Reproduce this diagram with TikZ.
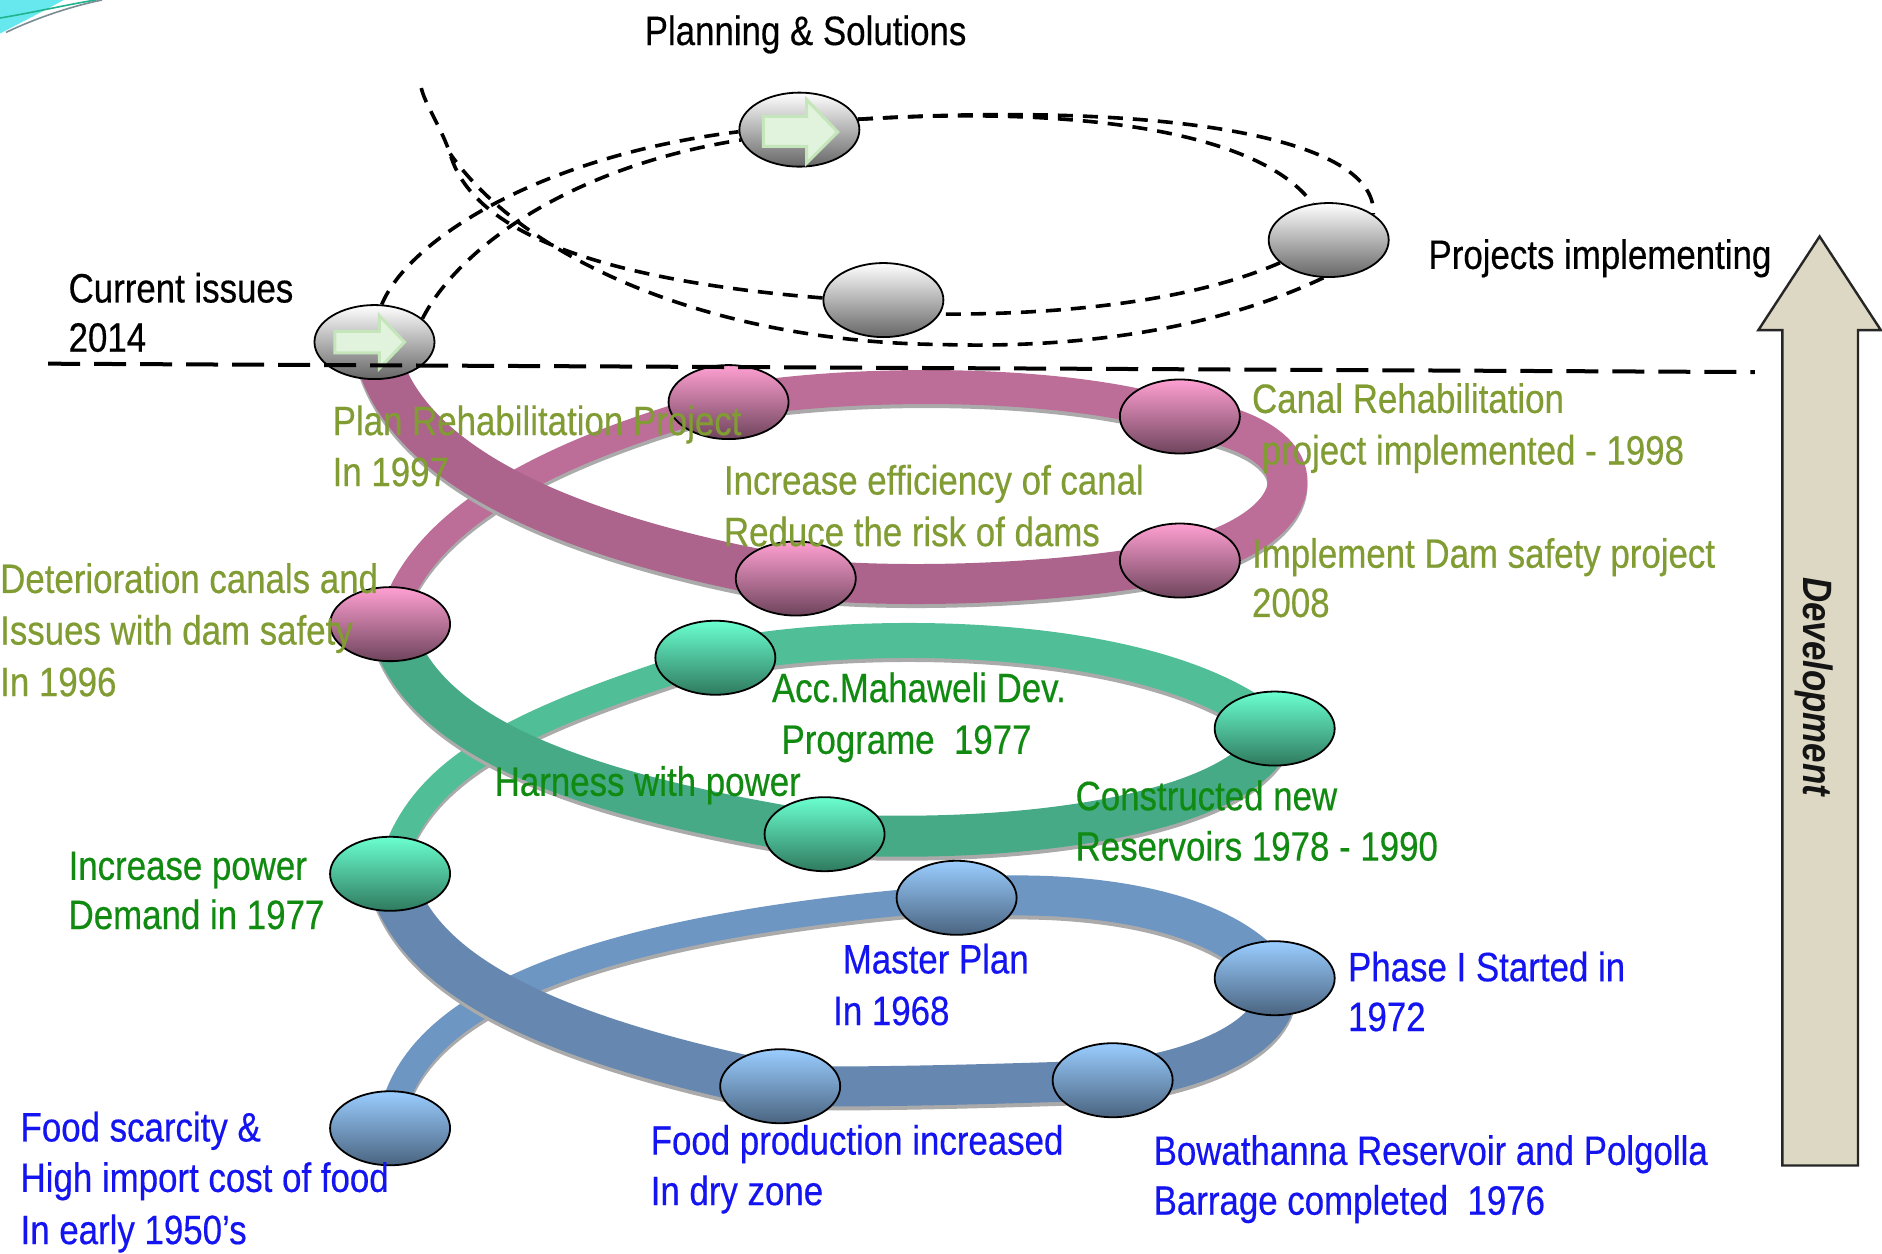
\documentclass[tikz,border=0pt]{standalone}
\usepackage{fontspec}
\setmainfont[FakeStretch=0.85, UprightFeatures={FakeBold=0.4}]{Liberation Sans}
\usetikzlibrary{shapes.geometric}
\pgfdeclarelayer{bg}
\pgfsetlayers{bg,main}
\definecolor{olivetxt}{HTML}{809C33}
\definecolor{greentxt}{HTML}{108A10}
\definecolor{bluetxt}{HTML}{1414F0}
\definecolor{pinkBack}{HTML}{BC6E98}
\definecolor{pinkFront}{HTML}{AC648C}
\definecolor{greenBack}{HTML}{50BE96}
\definecolor{greenFront}{HTML}{46AA86}
\definecolor{blueBack}{HTML}{6E96C3}
\definecolor{blueFront}{HTML}{6587B0}
\definecolor{pinkTop}{HTML}{FFA0D2}
\definecolor{pinkBot}{HTML}{6E445C}
\definecolor{greenTop}{HTML}{6AFFCF}
\definecolor{greenBot}{HTML}{2F7A5F}
\definecolor{blueTop}{HTML}{9ACDFF}
\definecolor{blueBot}{HTML}{4A6480}
\definecolor{shadowgray}{HTML}{AAAAAA}
\definecolor{arrowFill}{HTML}{E2F3DD}
\definecolor{arrowLine}{HTML}{C4E6BA}
\definecolor{devFill}{HTML}{DDD8C3}
\definecolor{swooshCyan}{HTML}{66E8EE}
\definecolor{swooshGreen}{HTML}{1FB38E}
\definecolor{swooshGray}{HTML}{7A8C94}
\newcommand{\ribbonseg}[3]{%
  \draw[draw=shadowgray, line width=#2, transform canvas={yshift=-4pt}] #3;%
  \draw[draw=#1, line width=#2] #3;}
\tikzset{
  ball/.style={ellipse, draw=black, line width=1.8pt, minimum width=120pt, minimum height=74pt, inner sep=0pt},
  grayball/.style={ball, top color=white, bottom color=black!60},
  pinkball/.style={ball, top color=pinkTop, bottom color=pinkBot},
  greenball/.style={ball, top color=greenTop, bottom color=greenBot},
  blueball/.style={ball, top color=blueTop, bottom color=blueBot},
  lbl/.style={anchor=base west, inner sep=0pt, font=\fontsize{41}{50}\selectfont},
  olivelbl/.style={lbl, text=olivetxt},
  greenlbl/.style={lbl, text=greentxt},
  bluelbl/.style={lbl, text=bluetxt},
  dashcurve/.style={draw=black, line width=3.6pt, dash pattern=on 15pt off 10pt},
  horizon/.style={draw=black, line width=4pt, dash pattern=on 32pt off 14pt},
  greenarrow/.style={fill=arrowFill, draw=arrowLine, line width=3pt, line join=miter},
  devarrow/.style={fill=devFill, draw=black!85, line width=2.4pt, line join=miter},
}
\begin{document}
\begin{tikzpicture}[x=1.2pt, y=-1.2pt]
\useasboundingbox (0,0) rectangle (1568,1044);

% balls
\node[grayball] (cur) at (312,285) {};
\node[grayball] (plan) at (666,108) {};
\node[grayball] (front) at (736,250) {};
\node[grayball] (proj) at (1107,200) {};
\node[pinkball] (p1) at (325,520) {};
\node[pinkball] (p2) at (607,335) {};
\node[pinkball] (p3) at (983,347) {};
\node[pinkball] (p4) at (983,467) {};
\node[pinkball] (p5) at (663,482) {};
\node[greenball] (g1) at (325,728) {};
\node[greenball] (g2) at (596,548) {};
\node[greenball] (g3) at (1062,607) {};
\node[greenball] (g4) at (687,695) {};
\node[blueball] (b1) at (325,940) {};
\node[blueball] (b2) at (797,748) {};
\node[blueball] (b3) at (1062,815) {};
\node[blueball] (b4) at (927,900) {};
\node[blueball] (b5) at (650,905) {};

\begin{pgfonlayer}{bg}
\fill[white] (0,0) rectangle (1568,1044);
% top-left swoosh
\fill[swooshCyan] (0,0) -- (53,0) .. controls (35,10) and (15,20) .. (0,28) -- cycle;
\draw[swooshGreen, line width=1.6pt] (0,15) .. controls (30,10) and (60,3) .. (80,0);
\draw[swooshGray, line width=1.6pt] (5,27) .. controls (30,15) and (60,5) .. (85,0);

% blue loop
\ribbonseg{blueBack}{26pt}{(b1.center) .. controls (335,850) and (450,775) .. (b2.center)}
\ribbonseg{blueBack}{40pt}{(b2.center) .. controls (900,740) and (1020,755) .. (b3.center)}
\ribbonseg{blueFront}{40pt}{(b3.center) .. controls (1075,860) and (1000,893) .. (b4.center)}
\ribbonseg{blueFront}{40pt}{(b4.center) .. controls (830,903) and (740,906) .. (b5.center)}
\ribbonseg{blueFront}{47pt}{(b5.center) .. controls (480,870) and (345,820) .. (g1.center)}
% green loop
\ribbonseg{greenBack}{26pt}{(g1.center) .. controls (345,640) and (430,600) .. (g2.center)}
\ribbonseg{greenBack}{35pt}{(g2.center) .. controls (700,525) and (960,520) .. (g3.center)}
\ribbonseg{greenFront}{41pt}{(g3.center) .. controls (1050,670) and (880,705) .. (g4.center)}
\ribbonseg{greenFront}{44pt}{(g4.center) .. controls (500,665) and (350,620) .. (p1.center)}
% pink loop
\ribbonseg{pinkBack}{26pt}{(p1.center) .. controls (345,440) and (440,380) .. (p2.center)}
\ribbonseg{pinkBack}{34pt}{(p2.center) .. controls (700,318) and (880,315) .. (p3.center)}
\ribbonseg{pinkBack}{40pt}{(p3.center) .. controls (1110,365) and (1095,440) .. (p4.center)}
\ribbonseg{pinkFront}{40pt}{(p4.center) .. controls (900,485) and (760,492) .. (p5.center)}
\ribbonseg{pinkFront}{45pt}{(p5.center) .. controls (480,450) and (330,390) .. (cur.center)}

% dashed orbit
\coordinate (tail) at (350,68);
\coordinate (merge) at (375,128);
\draw[dashcurve] (cur.79) .. controls (340,200) and (450,130) .. (plan.182);
\draw[dashcurve] (cur.26) .. controls (380,210) and (470,140) .. (plan.190);
\draw[dashcurve] (plan.10) .. controls (900,88) and (1050,110) .. (proj.114);
\draw[dashcurve] (plan.10) .. controls (950,85) and (1148,110) .. (proj.30);
\draw[dashcurve] (proj.205) .. controls (1000,248) and (900,262) .. (front.346);
\draw[dashcurve] (proj.262) .. controls (1000,280) and (880,290) .. (783,287) .. controls (600,285) and (440,220) .. (merge);
\draw[dashcurve] (front.178) .. controls (520,235) and (395,200) .. (merge) .. controls (365,100) and (352,85) .. (tail);
\end{pgfonlayer}

% arrows in gray balls
\begin{scope}[shift={(cur.center)}]
\draw[greenarrow] (-33,-9) -- (4,-9) -- (4,-22) -- (25,0) -- (4,22) -- (4,9) -- (-33,9) -- cycle;
\end{scope}
\begin{scope}[shift={(plan.center)}]
\draw[greenarrow] (-30,-11) -- (6,-11) -- (6,-25) -- (32,2) -- (6,28) -- (6,14) -- (-30,14) -- cycle;
\end{scope}

% horizon line
\coordinate (hl) at (40,303);
\coordinate (hr) at (1462,310);
\draw[horizon] (hl) -- (hr);

% development arrow
\draw[devarrow] (1485,971) -- (1485,275) -- (1465,275) -- (1516,197) -- (1567,275) -- (1548,275) -- (1548,971) -- cycle;
\node[rotate=-90, inner sep=0pt, font=\fontsize{41}{50}\selectfont\bfseries\itshape, text=black!92] (dev) at (1511,572) {Development};

% labels
\node[lbl] (t1) at (537,37.5) {Planning \& Solutions};
\node[lbl] (t2a) at (57,252) {Current issues};
\node[lbl] (t2b) at (57,293) {2014};
\node[lbl] (t3) at (1190,224) {Projects implementing};
\node[olivelbl] (t4a) at (277,362.5) {Plan Rehabilitation Project};
\node[olivelbl] (t4b) at (277,405) {In 1997};
\node[olivelbl] (t5a) at (603,412) {Increase efficiency of canal};
\node[olivelbl] (t5b) at (603,455) {Reduce the risk of dams};
\node[olivelbl] (t6a) at (1043,344) {Canal Rehabilitation};
\node[olivelbl] (t6b) at (1051,387) {project implemented - 1998};
\node[olivelbl] (t7a) at (1043,473) {Implement Dam safety project};
\node[olivelbl] (t7b) at (1043,514) {2008};
\node[olivelbl] (t8a) at (0,494) {Deterioration canals and};
\node[olivelbl] (t8b) at (0,537) {Issues with dam safety};
\node[olivelbl] (t8c) at (0,580) {In 1996};
\node[greenlbl] (t9a) at (643,585) {Acc.Mahaweli Dev.};
\node[greenlbl] (t9b) at (651,628) {Programe~~1977};
\node[greenlbl] (t10) at (412,663) {Harness with power};
\node[greenlbl] (t11a) at (896,675) {Constructed new};
\node[greenlbl] (t11b) at (896,717) {Reservoirs 1978 - 1990};
\node[greenlbl] (t12a) at (57,733) {Increase power};
\node[greenlbl] (t12b) at (57,774) {Demand in 1977};
\node[bluelbl] (t13a) at (702,811) {Master Plan};
\node[bluelbl] (t13b) at (694,854) {In 1968};
\node[bluelbl] (t14a) at (1123,817.5) {Phase I Started in};
\node[bluelbl] (t14b) at (1123,859) {1972};
\node[bluelbl] (t15a) at (542,962) {Food production increased};
\node[bluelbl] (t15b) at (542,1004) {In dry zone};
\node[bluelbl] (t16a) at (961,970.5) {Bowathanna Reservoir and Polgolla};
\node[bluelbl] (t16b) at (961,1012) {Barrage completed~~1976};
\node[bluelbl] (t17a) at (17,951) {Food scarcity \&};
\node[bluelbl] (t17b) at (17,993) {High import cost of food};
\node[bluelbl] (t17c) at (17,1036.5) {In early 1950’s};
\end{tikzpicture}
\end{document}
